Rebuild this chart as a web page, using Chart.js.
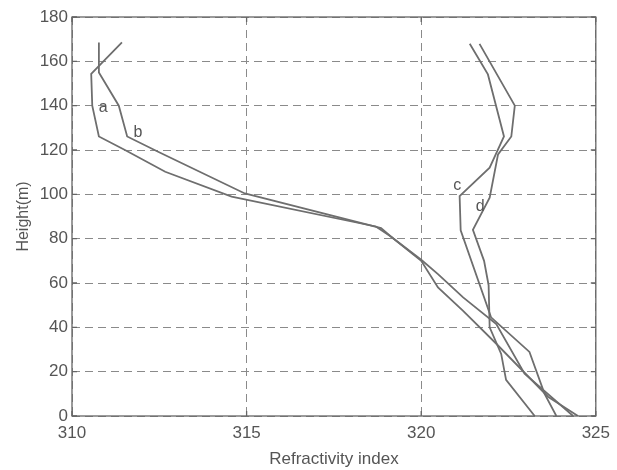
<!DOCTYPE html>
<html>
<head>
<meta charset="utf-8">
<script src="https://cdn.jsdelivr.net/npm/chart.js@4/dist/chart.umd.min.js"></script>
<style>
  html, body { margin: 0; padding: 0; background: #fff; }
  #wrap { width: 617px; height: 470px; }
</style>
</head>
<body>
<div id="wrap"><canvas id="profile" width="617" height="470"></canvas></div>
<script>
// profiles: refractivity (x) against height in m (y)
var refrA = [311.43, 310.55, 310.58, 310.77, 311.53, 312.67, 314.57, 318.7, 319.13, 320.0, 320.48, 321.2, 322.15, 322.96, 324.35];
var heightA = [168.5, 154.3, 140, 126.1, 119.9, 110.2, 99, 85.5, 81, 70.5, 64, 53.5, 41.5, 19.1, 0];

var refrB = [310.77, 310.77, 311.34, 311.58, 312.48, 314.95, 318.85, 319.13, 320.0, 320.48, 321.2, 322.15, 323.63, 324.49];
var heightB = [168.5, 155, 140, 126.1, 119.1, 100.4, 84.8, 81, 70, 58, 47.4, 32.6, 8.7, 0];

var refrC = [321.39, 321.91, 322.37, 321.96, 321.1, 321.13, 322.0, 323.1, 323.53, 323.87];
var heightC = [167.9, 154.1, 126.1, 112, 99.2, 83.8, 44.5, 28.9, 10.1, 0];

var refrD = [321.67, 322.68, 322.58, 322.2, 321.96, 321.48, 321.8, 321.93, 321.96, 322.29, 322.43, 323.25];
var heightD = [167.9, 140, 126.1, 118, 98.5, 84, 70, 59, 40, 28, 16.3, 0];

var curveNames = ['a', 'b', 'c', 'd'];
var nameX = [310.89, 311.89, 321.03, 321.69];
var nameY = [139, 128, 104, 94.6];

var xTicks = [310, 315, 320, 325];
var yTicks = [0, 20, 40, 60, 80, 100, 120, 140, 160, 180];

function toPoints(xs, ys) {
    var pts = [];
    for (var i = 0; i < xs.length; i++) {
        pts.push({ x: xs[i], y: ys[i] });
    }
    return pts;
}

var lineGray = '#6e6e6e';
var textGray = '#555';
var fontName = '"Liberation Sans", Arial, sans-serif';

// frame, inward tick marks and the a-d labels
var decorations = {
    id: 'decorations',
    afterDatasetsDraw: function (chart) {
        var c = chart.ctx;
        var area = chart.chartArea;
        var sx = chart.scales.x;
        var sy = chart.scales.y;
        c.save();
        c.strokeStyle = '#666';
        c.lineWidth = 1.3;
        c.setLineDash([]);
        c.strokeRect(area.left, area.top, area.right - area.left, area.bottom - area.top);
        c.beginPath();
        xTicks.forEach(function (v) {
            var px = sx.getPixelForValue(v);
            c.moveTo(px, area.bottom); c.lineTo(px, area.bottom - 5);
            c.moveTo(px, area.top); c.lineTo(px, area.top + 5);
        });
        yTicks.forEach(function (v) {
            var py = sy.getPixelForValue(v);
            c.moveTo(area.left, py); c.lineTo(area.left + 5, py);
            c.moveTo(area.right, py); c.lineTo(area.right - 5, py);
        });
        c.stroke();

        c.fillStyle = textGray;
        c.font = '16px ' + fontName;
        c.textAlign = 'center';
        c.textBaseline = 'middle';
        for (var i = 0; i < curveNames.length; i++) {
            c.fillText(curveNames[i], sx.getPixelForValue(nameX[i]), sy.getPixelForValue(nameY[i]));
        }
        c.restore();
    }
};

document.addEventListener('DOMContentLoaded', function () {
    var ctx = document.getElementById('profile').getContext('2d');

    var series = [
        toPoints(refrA, heightA),
        toPoints(refrB, heightB),
        toPoints(refrC, heightC),
        toPoints(refrD, heightD),
    ];

    var datasets = series.map(function (pts, i) {
        return {
            label: curveNames[i],
            data: pts,
            borderColor: lineGray,
            borderWidth: 1.8,
            pointRadius: 0,
            fill: false,
            tension: 0,
        };
    });

    var tickFont = { family: fontName, size: 17 };

    var options = {
        responsive: false,
        animation: false,
        showLine: true,
        layout: {
            padding: { left: 14, top: 17, right: 17, bottom: 0 },
        },
        plugins: {
            legend: { display: false },
            tooltip: { enabled: false },
        },
        scales: {
            x: {
                type: 'linear',
                min: 310,
                max: 325,
                afterBuildTicks: function (scale) {
                    scale.ticks = xTicks.map(function (v) { return { value: v }; });
                },
                afterFit: function (scale) { scale.height = 54; },
                ticks: { color: textGray, font: tickFont, padding: 7 },
                grid: { color: '#8a8a8a', lineWidth: 1, drawTicks: false },
                border: { display: false, dash: [8, 5] },
                title: {
                    display: true,
                    text: 'Refractivity index',
                    color: textGray,
                    font: { family: fontName, size: 17 },
                    padding: { top: 0, bottom: 0 },
                },
            },
            y: {
                type: 'linear',
                min: 0,
                max: 180,
                afterBuildTicks: function (scale) {
                    scale.ticks = yTicks.map(function (v) { return { value: v }; });
                },
                afterFit: function (scale) { scale.width = 58; },
                ticks: { color: textGray, font: tickFont, padding: 4 },
                grid: { color: '#8a8a8a', lineWidth: 1, drawTicks: false },
                border: { display: false, dash: [8, 5] },
                title: {
                    display: true,
                    text: 'Height(m)',
                    color: textGray,
                    font: { family: fontName, size: 16 },
                    padding: { top: 0, bottom: 0 },
                },
            },
        },
    };

    var profileChart = new Chart(ctx, {
        type: 'scatter',
        data: { datasets: datasets },
        options: options,
        plugins: [decorations],
    });
});
</script>
</body>
</html>
